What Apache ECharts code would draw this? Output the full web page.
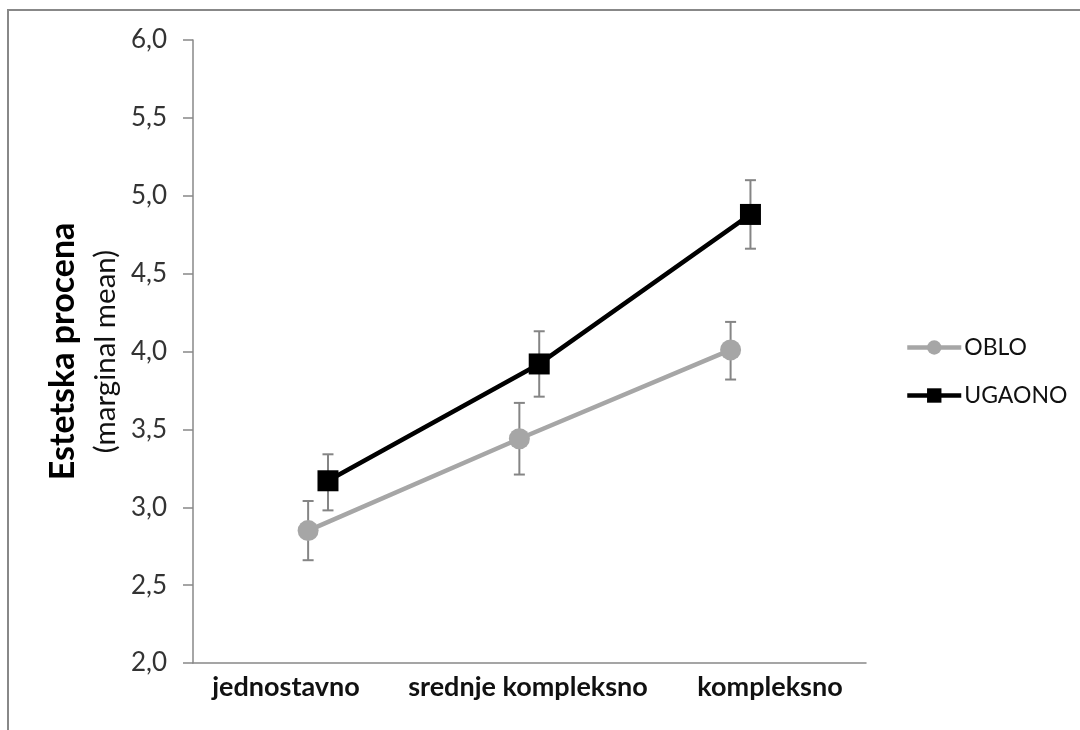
<!DOCTYPE html>
<html>
<head>
<meta charset="utf-8">
<script src="https://cdn.jsdelivr.net/npm/echarts@6/dist/echarts.min.js"></script>
<style>
html,body{margin:0;padding:0;background:#fff;}
#chart{width:1080px;height:730px;}
</style>
</head>
<body>
<div id="chart"></div>
<script>
// ---- data ----
const categories = ['jednostavno', 'srednje kompleksno', 'kompleksno'];
const seriesNames = ['OBLO', 'UGAONO'];
const obloMean = [2.85, 3.44, 4.01];
const obloLow  = [2.66, 3.21, 3.82];
const obloHigh = [3.04, 3.67, 4.19];
const ugaonoMean = [3.17, 3.92, 4.88];
const ugaonoLow  = [2.98, 3.71, 4.66];
const ugaonoHigh = [3.34, 4.13, 5.10];
const yMin = 2.0, yMax = 6.0, yStep = 0.5;

// ---- layout / style ----
const FONT = 'Lato';
const shift = 0.047;   // horizontal offset of the two series within a category
const catX = categories.map((c, i) => i + 0.5);

const pts = (means, off) => means.map((v, i) => [catX[i] + off, v]);
const errs = (lo, hi, off) => lo.map((v, i) => [catX[i] + off, v, hi[i]]);

function errorBar(params, api) {
  const x = api.value(0);
  const lo = api.coord([x, api.value(1)]);
  const hi = api.coord([x, api.value(2)]);
  const w = 5.5;
  const style = { stroke: '#858585', lineWidth: 2, fill: null };
  return {
    type: 'group',
    children: [
      { type: 'line', shape: { x1: lo[0], y1: lo[1], x2: hi[0], y2: hi[1] }, style },
      { type: 'line', shape: { x1: hi[0] - w, y1: hi[1], x2: hi[0] + w, y2: hi[1] }, style },
      { type: 'line', shape: { x1: lo[0] - w, y1: lo[1], x2: lo[0] + w, y2: lo[1] }, style }
    ]
  };
}

const chart = echarts.init(document.getElementById('chart'), null, { renderer: 'canvas' });
chart.setOption({
  backgroundColor: '#fff',
  animation: false,
  graphic: [{
    type: 'rect', silent: true,
    shape: { x: 8, y: 10, width: 1300, height: 1000 },
    style: { fill: null, stroke: '#888888', lineWidth: 2 }
  }],
  grid: [
    { left: 193, top: 40, width: 673, height: 623, containLabel: false, outerBoundsMode: 'none' },
    { left: 165, top: 40, width: 726, height: 623, containLabel: false, outerBoundsMode: 'none' }
  ],
  xAxis: [
    {
      type: 'value', gridIndex: 0, min: -0.092, max: 3.094,
      axisLine: { show: true, onZero: false, lineStyle: { color: '#888888', width: 1.5 } },
      axisTick: { show: false }, axisLabel: { show: false }, splitLine: { show: false }
    },
    {
      type: 'category', gridIndex: 1, data: categories, boundaryGap: true,
      axisLine: { show: false }, axisTick: { show: false }, splitLine: { show: false },
      axisLabel: { interval: 0, hideOverlap: false, margin: 11, fontFamily: FONT, fontWeight: 'bold', fontSize: 27, color: '#111' }
    }
  ],
  yAxis: [
    {
      type: 'value', gridIndex: 0, min: yMin, max: yMax, interval: yStep,
      axisLine: { show: true, onZero: false, lineStyle: { color: '#888888', width: 1.5 } },
      axisTick: { show: true, inside: false, length: 10, lineStyle: { color: '#888888', width: 1.5 } },
      splitLine: { show: false },
      axisLabel: {
        margin: 26, fontFamily: FONT, fontSize: 26, color: '#333',
        formatter: v => v.toFixed(1).replace('.', ',')
      },
      name: '{b|Estetska procena}\n{n|(marginal mean)}',
      nameLocation: 'middle', nameRotate: 90, nameGap: 58,
      nameTextStyle: {
        rich: {
          b: { fontFamily: FONT, fontWeight: 'bold', fontSize: 34, color: '#000', lineHeight: 42 },
          n: { fontFamily: FONT, fontSize: 29.5, color: '#111', lineHeight: 42 }
        }
      }
    },
    { type: 'value', gridIndex: 1, show: false, min: 0, max: 1 }
  ],
  legend: {
    orient: 'vertical', left: 905, top: 336, padding: 0,
    data: seriesNames,
    itemWidth: 54, itemHeight: 18, itemGap: 25,
    lineStyle: { width: 4.5 },
    textStyle: { fontFamily: FONT, fontSize: 23, color: '#111', padding: [0, 0, 0, -2] }
  },
  series: [
    {
      type: 'custom', name: 'err-oblo', xAxisIndex: 0, yAxisIndex: 0, z: 1,
      renderItem: errorBar, data: errs(obloLow, obloHigh, -shift), silent: true
    },
    {
      type: 'custom', name: 'err-ugaono', xAxisIndex: 0, yAxisIndex: 0, z: 1,
      renderItem: errorBar, data: errs(ugaonoLow, ugaonoHigh, shift), silent: true
    },
    {
      type: 'line', name: seriesNames[0], xAxisIndex: 0, yAxisIndex: 0, z: 3,
      data: pts(obloMean, -shift),
      symbol: 'circle', symbolSize: 21,
      lineStyle: { color: '#A6A6A6', width: 4.5 },
      itemStyle: { color: '#A6A6A6' }
    },
    {
      type: 'line', name: seriesNames[1], xAxisIndex: 0, yAxisIndex: 0, z: 4,
      data: pts(ugaonoMean, shift),
      symbol: 'rect', symbolSize: 21,
      lineStyle: { color: '#000000', width: 4.5 },
      itemStyle: { color: '#000000' }
    }
  ]
});
</script>
</body>
</html>
